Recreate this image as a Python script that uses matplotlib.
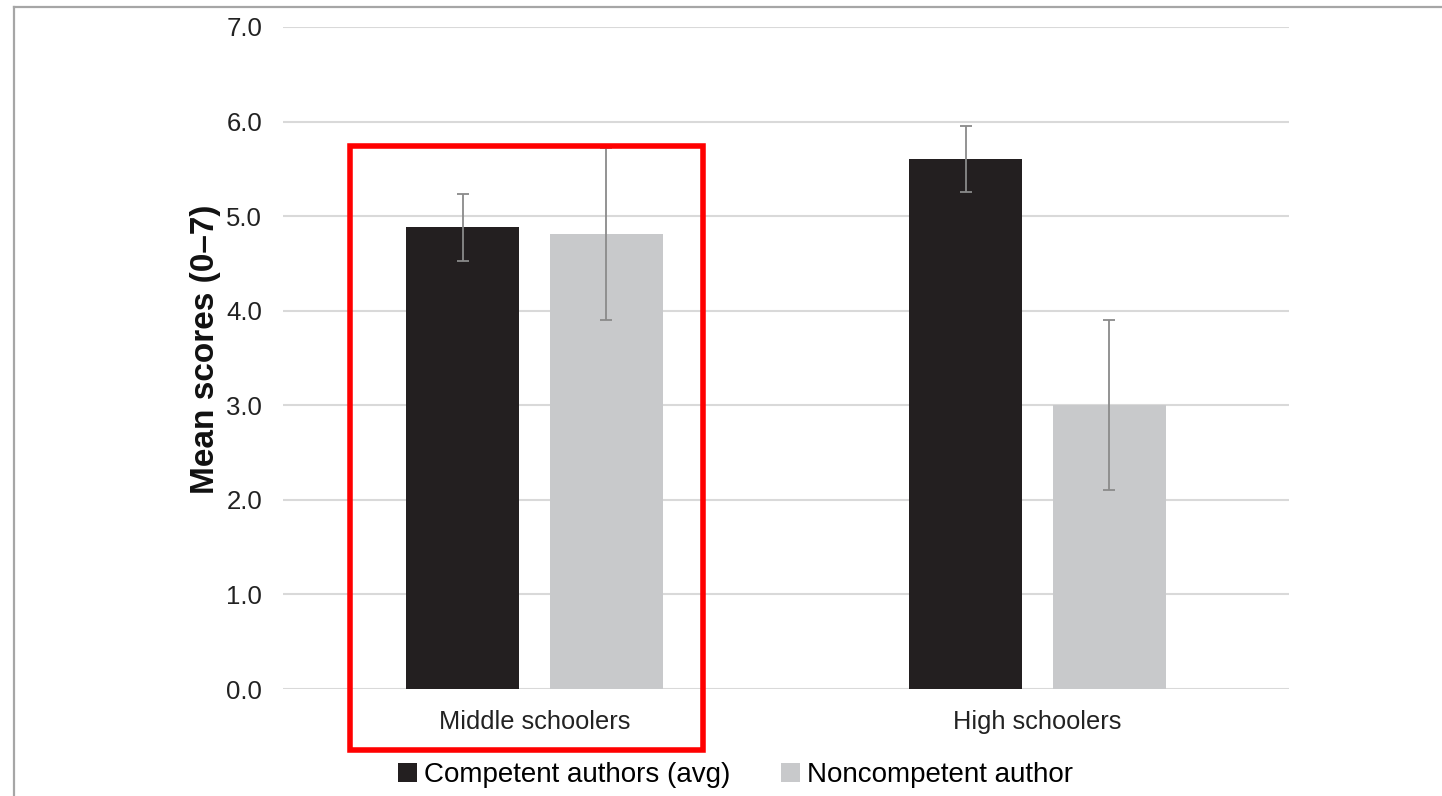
import matplotlib
matplotlib.use("Agg")
import matplotlib.pyplot as plt
from matplotlib.patches import Rectangle
from matplotlib.lines import Line2D
import numpy as np

plt.rcParams['font.family'] = ['Liberation Sans', 'DejaVu Sans']

groups = ["Middle schoolers", "High schoolers"]
series = ["Competent authors (avg)", "Noncompetent author"]
competent = [4.88, 5.60]
competent_err = [0.35, 0.35]
noncompetent = [4.81, 3.00]
noncompetent_err = [0.91, 0.90]
yticks = [0.0, 1.0, 2.0, 3.0, 4.0, 5.0, 6.0, 7.0]

fig = plt.figure(figsize=(14.42, 7.96), dpi=100)
ax = fig.add_axes([0.1963, 0.1344, 0.6976, 0.8317])

x = np.arange(len(groups))
w = 0.225
off = 0.1425
ekw = dict(ecolor='#8a8a8a', elinewidth=1.3, capsize=4.5, capthick=1.3)
ax.bar(x - off, competent, w, yerr=competent_err, color='#231f20',
       label=series[0], error_kw=ekw, zorder=3)
ax.bar(x + off, noncompetent, w, yerr=noncompetent_err, color='#c8c9cb',
       label=series[1], error_kw=ekw, zorder=3)

ax.set_xlim(-0.5, 1.5)
ax.set_ylim(0, 7)
ax.set_yticks(yticks)
ax.set_yticklabels(["%.1f" % v for v in yticks])
ax.set_xticks(x)
ax.set_xticklabels(groups)
ax.tick_params(axis='y', length=0, pad=15, labelsize=18.5, labelcolor='#222222')
ax.tick_params(axis='x', length=0, pad=15, labelsize=18.3, labelcolor='#222222')
ax.yaxis.grid(True, color='#d9d9d9', linewidth=1.5, zorder=0)
ax.set_axisbelow(True)
for s in ax.spines.values():
    s.set_visible(False)
ax.set_ylabel("Mean scores (0\u20137)", fontsize=24, fontweight='bold',
              labelpad=5, color='#111111')
ax.yaxis.set_label_coords(-0.062, 0.513)

# red highlight box around the middle schoolers group
ax.add_patch(Rectangle((-0.367, -0.645), 0.702, 6.385, fill=False,
                       edgecolor='#ff0000', linewidth=4, clip_on=False, zorder=5))

leg = fig.legend(loc='center', bbox_to_anchor=(0.51, 0.026), ncol=2,
                 frameon=False, fontsize=20, handlelength=0.7, handleheight=0.7,
                 handletextpad=0.25, columnspacing=1.8, borderaxespad=0)

# page border
fig.add_artist(Line2D([14 / 1442, 14 / 1442], [0, 1 - 7 / 796], color='#a6a6a6',
                      linewidth=1.6, transform=fig.transFigure))
fig.add_artist(Line2D([14 / 1442, 1], [1 - 7 / 796, 1 - 7 / 796], color='#a6a6a6',
                      linewidth=1.6, transform=fig.transFigure))

fig.savefig("out.png", dpi=100)
